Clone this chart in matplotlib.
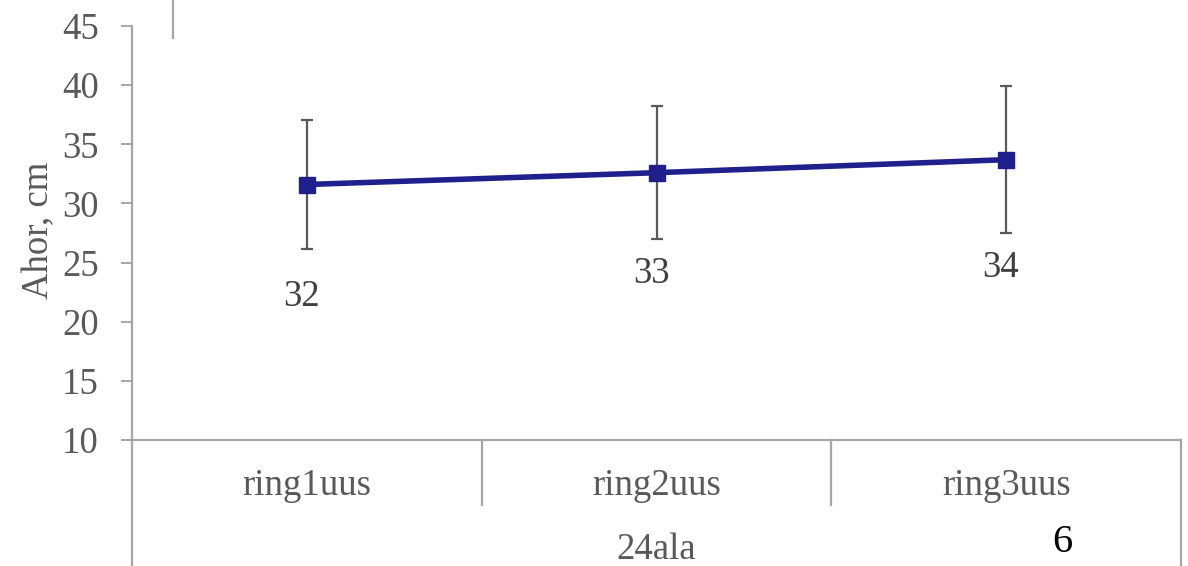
import matplotlib
matplotlib.use("Agg")
import matplotlib.pyplot as plt
from matplotlib.lines import Line2D

# Horizontal height of trees by ring, 24 ala
categories = ["ring1uus", "ring2uus", "ring3uus"]
group_label = "24ala"
mean_height = [31.6, 32.6, 33.7]
height_err = [5.45, 5.6, 6.2]
y_ticks = [10, 15, 20, 25, 30, 35, 40, 45]
page_number = "6"

plt.rcParams["font.family"] = ["Liberation Serif", "DejaVu Serif"]
grey_text = "#595959"
axis_grey = "#a6a6a6"
line_col = "#20208c"

fig = plt.figure(figsize=(11.88, 5.66), dpi=100)
ax = fig.add_axes([132 / 1188, 1 - 440 / 566, 1049 / 1188, 414 / 566])

x = list(range(len(categories)))
ax.errorbar(x, mean_height, yerr=height_err, fmt="none", ecolor="#5a5a5a",
            elinewidth=1.6, capsize=4.5, capthick=1.6, zorder=2)
ax.plot(x, mean_height, color=line_col, lw=4, marker="s", ms=11,
        markerfacecolor=line_col, markeredgecolor=line_col, zorder=3)

# value labels below each point
label_offsets = [(-4, -81), (-4, -73), (-4, -78)]
for xi, v, off in zip(x, mean_height, label_offsets):
    ax.annotate(f"{v:.0f}", (xi, v), xytext=off, textcoords="offset points",
                ha="center", va="center", fontsize=26.5, color="#404040")

ax.set_xlim(-0.5, len(categories) - 0.5)
ax.set_ylim(10, 45)
ax.set_yticks(y_ticks)
ax.set_yticklabels([str(t) for t in y_ticks])
ax.tick_params(axis="y", length=8, width=1.4, color=axis_grey, pad=16,
               labelsize=26.5, labelcolor=grey_text)
ax.set_xticks([])

for s in ("top", "right"):
    ax.spines[s].set_visible(False)
for s in ("left", "bottom"):
    ax.spines[s].set_color(axis_grey)
    ax.spines[s].set_linewidth(1.6)

ax.set_ylabel("Ahor, cm", fontsize=26.5, color=grey_text)
ax.yaxis.set_label_coords(-0.072, 0.507)

# multi-level category axis
tr = ax.get_xaxis_transform()
for xi, name in zip(x, categories):
    ax.text(xi, -0.11, name, transform=tr, ha="center", va="center",
            fontsize=26.5, color=grey_text)
for b in [0.5, 1.5]:
    ax.add_line(Line2D([b, b], [0, -0.157], transform=tr, color=axis_grey,
                       lw=1.6, clip_on=False))
for b in [-0.5, len(categories) - 0.5]:
    ax.add_line(Line2D([b, b], [0, -0.31], transform=tr, color=axis_grey,
                       lw=1.6, clip_on=False))
ax.text(1, -0.265, group_label, transform=tr, ha="center", va="center",
        fontsize=26.5, color=grey_text)

# stray border fragment at the top and page number
fig.add_artist(Line2D([173 / 1188, 173 / 1188], [1.0, 1 - 38 / 566],
                      color=axis_grey, lw=1.6))
fig.text(1062 / 1188, 1 - 542 / 566, page_number, ha="center", va="center",
         fontsize=29, color="black")

fig.savefig("out.png", dpi=100)
